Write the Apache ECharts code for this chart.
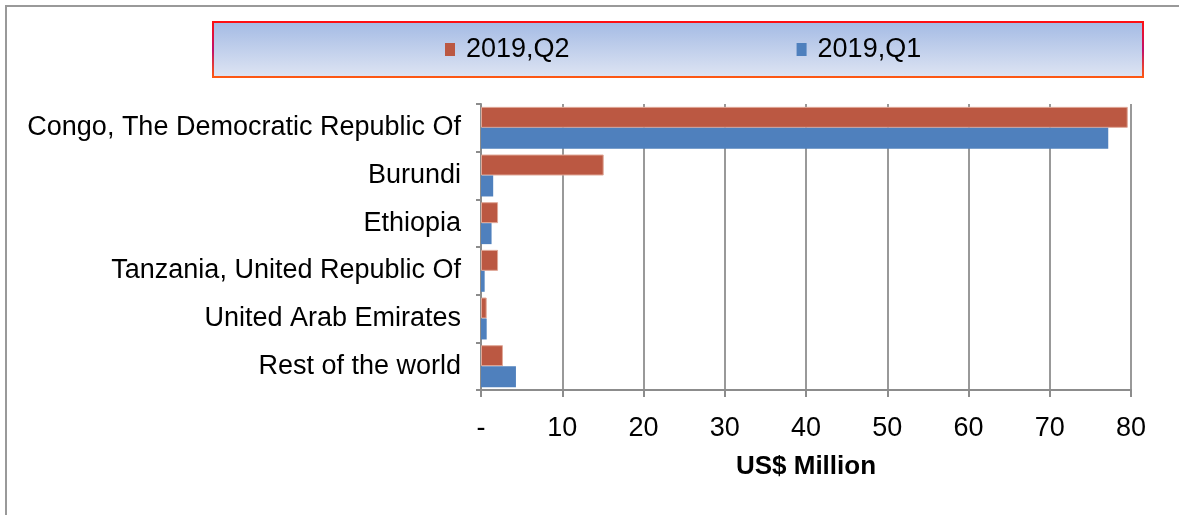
<!DOCTYPE html>
<html>
<head>
<meta charset="utf-8">
<script src="https://cdn.jsdelivr.net/npm/echarts@6/dist/echarts.min.js"></script>
<style>
  html, body { margin: 0; padding: 0; background: #fff; }
  #chart { width: 1179px; height: 515px; }
</style>
</head>
<body>
<div id="chart"></div>
<script>
const countries = [
  'Congo, The Democratic Republic Of',
  'Burundi',
  'Ethiopia',
  'Tanzania, United Republic Of',
  'United Arab Emirates',
  'Rest of the world'
]
const q2Values = [79.6, 15.1, 2.1, 2.1, 0.7, 2.7]
const q1Values = [77.2, 1.5, 1.3, 0.45, 0.7, 4.3]
const seriesNames = ['2019,Q2', '2019,Q1']

const chart = echarts.init(document.getElementById('chart'))
const font = 'Liberation Sans, Arial, sans-serif'

chart.setOption({
  animation: false,
  textStyle: { fontFamily: font },
  graphic: [
    {
      type: 'rect',
      shape: { x: 6, y: 6, width: 1200, height: 600 },
      style: { fill: 'none', stroke: '#999', lineWidth: 2 },
      z: -10
    },
    {
      // legend box
      type: 'rect',
      shape: { x: 213, y: 22, width: 930, height: 55 },
      style: {
        fill: new echarts.graphic.LinearGradient(0, 0, 0, 1, [
          { offset: 0, color: '#a3bae4' },
          { offset: 1, color: '#dfe5f3' }
        ]),
        stroke: new echarts.graphic.LinearGradient(0, 0, 0, 1, [
          { offset: 0, color: '#ff1010' },
          { offset: 0.5, color: '#c0106a' },
          { offset: 1, color: '#ff5a10' }
        ]),
        lineWidth: 2
      },
      z: -5
    }
  ],
  legend: {
    data: seriesNames,
    left: 445,
    top: 36,
    padding: 0,
    itemWidth: 10,
    itemHeight: 13,
    itemGap: 227,
    icon: 'rect',
    itemStyle: { borderWidth: 0 },
    textStyle: { fontSize: 27, color: '#000', fontFamily: font, padding: [0, 0, 0, 6] }
  },
  grid: {
    left: 481,
    right: 48,
    top: 104,
    bottom: 125
  },
  xAxis: {
    type: 'value',
    min: 0,
    max: 80,
    interval: 10,
    name: 'US$ Million',
    nameLocation: 'middle',
    nameGap: 64,
    nameTextStyle: { fontSize: 26, fontWeight: 'bold', color: '#000', fontFamily: font },
    axisLine: { show: true, lineStyle: { color: '#8c8c8c', width: 2 } },
    axisTick: { show: true, length: 7, lineStyle: { color: '#8c8c8c', width: 2 } },
    axisLabel: {
      fontSize: 27,
      color: '#000',
      margin: 25,
      formatter: (v) => (v === 0 ? '-' : String(v))
    },
    splitLine: { show: true, lineStyle: { color: '#999', width: 2 } }
  },
  yAxis: {
    type: 'category',
    inverse: true,
    data: countries,
    axisLine: { show: true, lineStyle: { color: '#8c8c8c', width: 2 } },
    axisTick: { show: true, length: 5, lineStyle: { color: '#8c8c8c', width: 2 } },
    axisLabel: { fontSize: 27, color: '#000', margin: 20 }
  },
  series: [
    {
      name: seriesNames[0],
      type: 'bar',
      data: q2Values,
      barGap: '0%',
      barCategoryGap: '12%',
      itemStyle: { color: '#bb5842', borderColor: '#e0a898', borderWidth: 1 }
    },
    {
      name: seriesNames[1],
      type: 'bar',
      data: q1Values,
      itemStyle: { color: '#4f80bd' }
    }
  ]
})
</script>
</body>
</html>
